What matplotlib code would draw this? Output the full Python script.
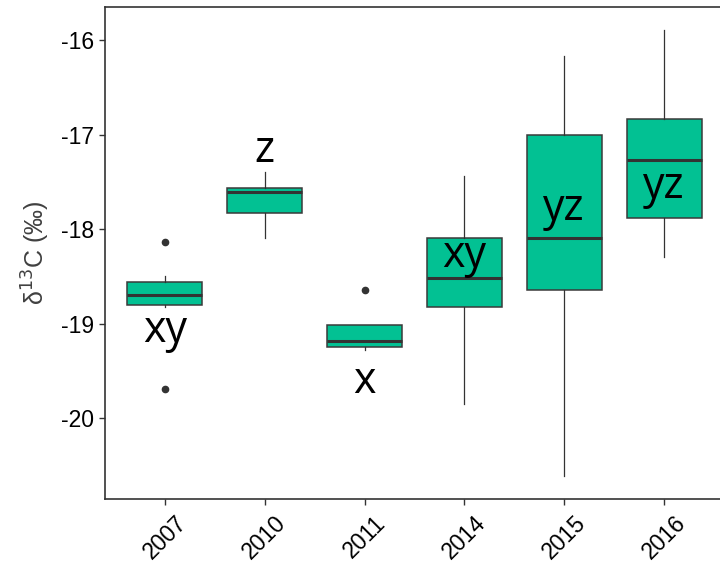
import matplotlib
matplotlib.use("Agg")
import matplotlib.pyplot as plt

plt.rcParams["font.family"] = ["Liberation Sans", "DejaVu Sans"]

years = ["2007", "2010", "2011", "2014", "2015", "2016"]
whislo = [-18.82, -18.09, -19.28, -19.85, -20.61, -18.30]
q1 = [-18.80, -17.83, -19.25, -18.83, -18.65, -17.88]
med = [-18.70, -17.61, -19.19, -18.52, -18.10, -17.27]
q3 = [-18.56, -17.57, -19.02, -18.10, -17.00, -16.84]
whishi = [-18.50, -17.40, -19.02, -17.44, -16.17, -15.89]
fliers = [[-18.14, -19.69], [], [-18.65], [], [], []]
letters = ["xy", "z", "x", "xy", "yz", "yz"]
letter_y = [-19.20, -17.29, -19.74, -18.40, -17.90, -17.67]

fig = plt.figure(figsize=(7.2, 5.63), dpi=100)
ax = fig.add_axes([105/720, 1 - 499/563, (724 - 105)/720, (499 - 7)/563])

stats = []
for i in range(len(years)):
    stats.append(dict(whislo=whislo[i], q1=q1[i], med=med[i], q3=q3[i],
                      whishi=whishi[i], fliers=fliers[i], label=years[i]))

pos = list(range(1, len(years) + 1))
ax.bxp(stats, positions=pos, widths=0.75, patch_artist=True, showcaps=False,
       boxprops=dict(facecolor="#02C193", edgecolor="#3a3a3a", linewidth=1.1),
       medianprops=dict(color="#333333", linewidth=2.2),
       whiskerprops=dict(color="#333333", linewidth=0.9),
       flierprops=dict(marker="o", markerfacecolor="#333333", markeredgecolor="#333333",
                       markersize=4.5))

for i, (t, yv) in enumerate(zip(letters, letter_y)):
    ax.text(pos[i], yv, t, ha="center", va="baseline", fontsize=31,
            family="Open Sans", color="black")

ax.set_xlim(0.4, 6.6)
ax.set_ylim(-20.857, -15.65)
ax.set_yticks([-20, -19, -18, -17, -16])
ax.set_yticklabels(["-20", "-19", "-18", "-17", "-16"])
ax.set_xticks(pos)
ax.set_xticklabels(years, rotation=45, ha="center", va="top")

for lab in ax.get_xticklabels() + ax.get_yticklabels():
    lab.set_fontsize(16.5)
    lab.set_color("black")

ax.tick_params(axis="both", length=4, width=1, color="#333333", pad=4)
ax.tick_params(axis="x", pad=5)
for s in ax.spines.values():
    s.set_linewidth(1.2)
    s.set_color("#333333")

ax.set_ylabel("δ$^{13}$C (‰)", fontsize=18, color="#404040")
ax.yaxis.set_label_coords(-0.085, 0.5)
ax.set_xlabel("")

fig.savefig("out.png", dpi=100)
